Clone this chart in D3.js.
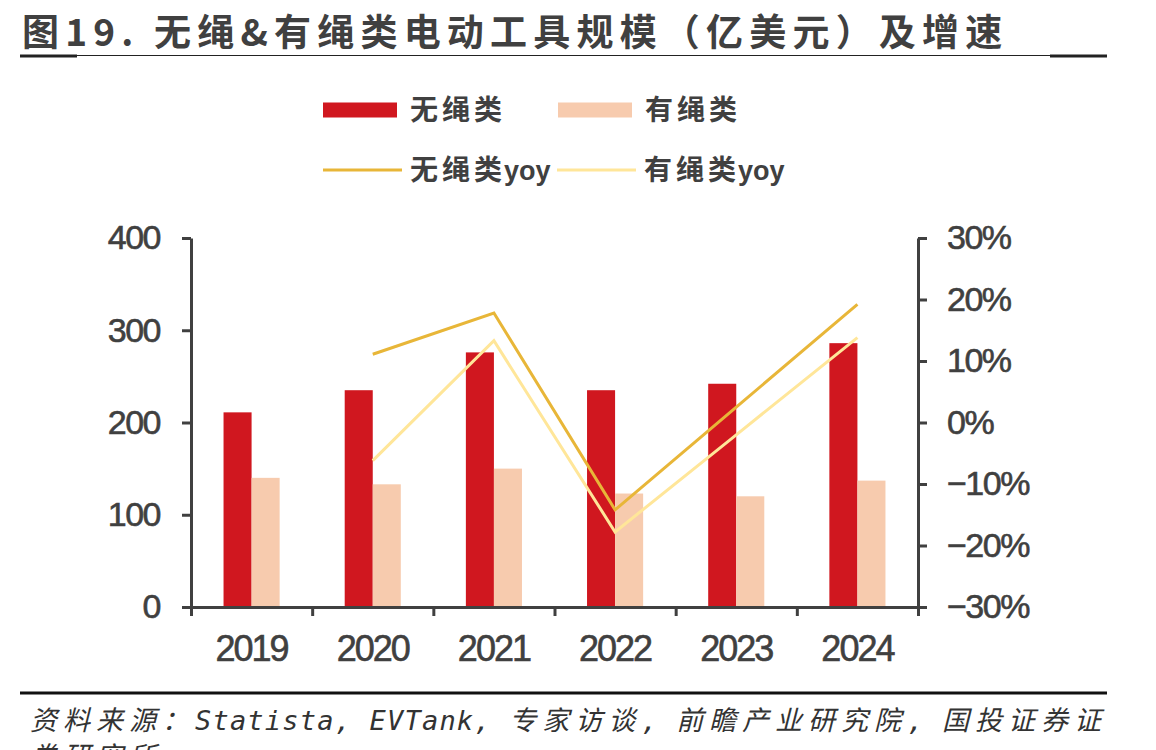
<!DOCTYPE html>
<html>
<head>
<meta charset="utf-8">
<script src="https://cdn.jsdelivr.net/npm/d3@7"></script>
<style>
  html, body { margin: 0; padding: 0; background: #fff; }
  svg { display: block; }
</style>
</head>
<body>
<div id="chart"></div>
<script>
// data
var years = ["2019", "2020", "2021", "2022", "2023", "2024"];
var seriesNames = ["无绳类", "有绳类"];
var cordless = [211, 235, 276, 235, 242, 286];
var corded = [140, 133, 150, 123, 120, 137];
var cordlessYoy = [null, 11.1, 17.8, -14.2, 2.5, 19.2];
var cordedYoy = [null, -6.2, 13.3, -17.8, -2.0, 13.8];
var leftTicks = [0, 100, 200, 300, 400];
var rightTicks = [-30, -20, -10, 0, 10, 20, 30];

var W = 1156, H = 750;
var textColor = "#404040";
var barColors = { "无绳类": "#D0171F", "有绳类": "#F7CBAE" };
var lineColors = { "无绳类yoy": "#E8B638", "有绳类yoy": "#FFE699" };
var numFont = "'Liberation Sans', Arial, sans-serif";
var cjkFont = "'Noto Sans CJK SC', sans-serif";

var svg = d3.select("#chart").append("svg")
  .attr("width", W)
  .attr("height", H);

// title
svg.append("text")
  .attr("x", 22)
  .attr("y", 46)
  .attr("font-family", cjkFont)
  .attr("font-weight", "bold")
  .attr("font-size", 37)
  .attr("letter-spacing", 6.2)
  .attr("fill", textColor)
  .text("图19. 无绳&有绳类电动工具规模（亿美元）及增速");

// title rule, thick at both ends
svg.append("line").attr("x1", 20).attr("x2", 1107).attr("y1", 55.5).attr("y2", 55.5)
  .attr("stroke", "#222").attr("stroke-width", 1);
svg.append("line").attr("x1", 20).attr("x2", 77).attr("y1", 56).attr("y2", 56)
  .attr("stroke", "#222").attr("stroke-width", 3);
svg.append("line").attr("x1", 1050).attr("x2", 1107).attr("y1", 56).attr("y2", 56)
  .attr("stroke", "#222").attr("stroke-width", 3);

// plot box
var plotLeft = 191, plotRight = 918, plotTop = 238, plotBottom = 607;
var x0 = d3.scaleBand().domain(years).range([plotLeft, plotRight]);
var x1 = d3.scaleBand().domain(seriesNames).range([0, x0.bandwidth()]).paddingInner(0).paddingOuter(1.16);
var yL = d3.scaleLinear().domain([0, 400]).range([plotBottom, plotTop]);
var yR = d3.scaleLinear().domain([-30, 30]).range([plotBottom, plotTop]);
var xb = d3.scaleLinear().domain([0, years.length]).range([plotLeft, plotRight]);

// bars
var barData = [];
years.forEach(function(yr, i) {
  barData.push({ year: yr, name: "无绳类", value: cordless[i] });
  barData.push({ year: yr, name: "有绳类", value: corded[i] });
});
svg.append("g").selectAll("rect")
  .data(barData)
  .enter().append("rect")
    .attr("x", function(d) { return x0(d.year) + x1(d.name); })
    .attr("width", x1.bandwidth())
    .attr("y", function(d) { return yL(d.value); })
    .attr("height", function(d) { return yL(0) - yL(d.value); })
    .attr("fill", function(d) { return barColors[d.name]; });

// yoy lines
var line = d3.line()
  .defined(function(d) { return d.v !== null; })
  .x(function(d) { return x0(d.year) + x0.bandwidth() / 2; })
  .y(function(d) { return yR(d.v); });
var lineData = [
  { name: "有绳类yoy", values: years.map(function(yr, i) { return { year: yr, v: cordedYoy[i] }; }) },
  { name: "无绳类yoy", values: years.map(function(yr, i) { return { year: yr, v: cordlessYoy[i] }; }) }
];
svg.append("g").selectAll("path")
  .data(lineData)
  .enter().append("path")
    .attr("d", function(d) { return line(d.values); })
    .attr("fill", "none")
    .attr("stroke", function(d) { return lineColors[d.name]; })
    .attr("stroke-width", 3)
    .attr("stroke-linejoin", "miter");

function styleAxis(size, spacing) {
  return function(g) {
    g.select(".domain").attr("stroke", textColor).attr("stroke-width", 3);
    g.selectAll(".tick line").attr("stroke", textColor).attr("stroke-width", 3);
    g.selectAll(".tick text")
      .attr("fill", textColor)
      .attr("stroke", textColor)
      .attr("stroke-width", 0.6)
      .attr("font-family", numFont)
      .attr("font-size", size)
      .attr("letter-spacing", spacing);
  };
}

// left axis
svg.append("g")
  .attr("transform", "translate(" + plotLeft + ",0)")
  .call(d3.axisLeft(yL).tickValues(leftTicks).tickSize(9).tickSizeOuter(0).tickPadding(22))
  .call(styleAxis(34, -1.5));

// right axis
svg.append("g")
  .attr("transform", "translate(" + plotRight + ",0)")
  .call(d3.axisRight(yR).tickValues(rightTicks).tickSize(9).tickSizeOuter(0).tickPadding(20)
    .tickFormat(function(d) { return (d < 0 ? "\u2212" + Math.abs(d) : d) + "%"; }))
  .call(styleAxis(34, -1.5));

// bottom axis: ticks at category boundaries
svg.append("g")
  .attr("transform", "translate(0," + plotBottom + ")")
  .call(d3.axisBottom(xb).tickValues(d3.range(years.length + 1)).tickFormat("").tickSize(9).tickSizeOuter(0))
  .call(styleAxis(34, 0));
svg.append("g")
  .attr("transform", "translate(0," + plotBottom + ")")
  .call(d3.axisBottom(x0).tickSize(0).tickPadding(28))
  .call(styleAxis(36, -2))
  .call(function(g) { g.select(".domain").remove(); });

// legend
var legend = svg.append("g")
  .attr("font-family", cjkFont)
  .attr("font-weight", "bold")
  .attr("font-size", 28)
  .attr("fill", textColor);
var legendItems = [
  { name: "无绳类", suffix: "", type: "bar", x: 323, y: 110 },
  { name: "有绳类", suffix: "", type: "bar", x: 558, y: 110 },
  { name: "无绳类", suffix: "yoy", type: "line", x: 323, y: 170 },
  { name: "有绳类", suffix: "yoy", type: "line", x: 557, y: 170 }
];
legendItems.forEach(function(it) {
  if (it.type === "bar") {
    legend.append("rect")
      .attr("x", it.x).attr("y", it.y - 7.5)
      .attr("width", 74).attr("height", 15)
      .attr("fill", barColors[it.name]);
  } else {
    legend.append("line")
      .attr("x1", it.x).attr("x2", it.x + 79)
      .attr("y1", it.y).attr("y2", it.y)
      .attr("stroke", lineColors[it.name + it.suffix]).attr("stroke-width", 3);
  }
  var t = legend.append("text")
    .attr("x", it.x + 87)
    .attr("y", it.y + 10);
  t.append("tspan").attr("letter-spacing", 4).text(it.name);
  if (it.suffix) {
    t.append("tspan")
      .attr("dx", -2)
      .attr("font-family", numFont)
      .attr("font-size", 27)
      .text(it.suffix);
  }
});

// source rule + note
svg.append("line").attr("x1", 20).attr("x2", 1107).attr("y1", 693).attr("y2", 693)
  .attr("stroke", "#111").attr("stroke-width", 3);
var noteFont = "'DejaVu Sans Mono', 'Noto Sans CJK SC', monospace";
var noteLines = [
  { text: "资料来源：Statista, EVTank, 专家访谈, 前瞻产业研究院, 国投证券证", y: 730 },
  { text: "券研究所", y: 766 }
];
noteLines.forEach(function(ln) {
  var t = svg.append("text")
    .attr("x", 30)
    .attr("y", ln.y)
    .attr("font-family", noteFont)
    .attr("font-style", "italic")
    .attr("font-size", 27)
    .attr("fill", "#333");
  // CJK runs get wide spacing, Latin runs stay tight like the mono face
  ln.text.match(/[\u3000-\u9fff\uff00-\uffef]+|[^\u3000-\u9fff\uff00-\uffef]+/g).forEach(function(run) {
    var cjk = /[\u3000-\u9fff\uff00-\uffef]/.test(run);
    t.append("tspan")
      .attr("letter-spacing", cjk ? 6 : 1.2)
      .text(run);
  });
});
</script>
</body>
</html>
